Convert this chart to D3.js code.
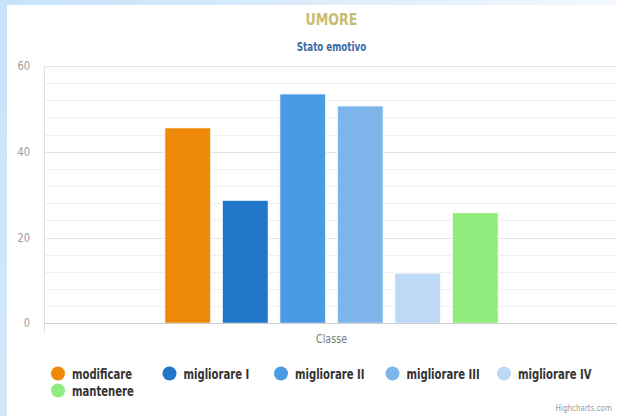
<!DOCTYPE html>
<html><head><meta charset="utf-8">
<script src="https://cdn.jsdelivr.net/npm/d3@7"></script>
<style>
html,body{margin:0;padding:0;background:#fff;overflow:hidden}
svg{display:block}
text{font-family:"DejaVu Sans",sans-serif}
</style></head><body>
<svg id="c" width="617" height="416"></svg>
<script>
const categories = ["Classe"];
const seriesNames = ["modificare","migliorare I","migliorare II","migliorare III","migliorare IV","mantenere"];
const seriesValues = [45.6, 28.7, 53.5, 50.7, 11.7, 25.8];
const seriesColors = ["#ef8908","#2077ca","#4b9be3","#7db4ea","#bdd9f5","#90ec7d"];
const yTicks = [0, 20, 40, 60];
const titleText = "UMORE";
const subtitleText = "Stato emotivo";
const creditText = "Highcharts.com";

const W = 617, H = 416;
const svg = d3.select("#c");
const defs = svg.append("defs");
const g = defs.append("linearGradient").attr("id","bg").attr("x1","0").attr("y1","0").attr("x2","1").attr("y2","0.3");
g.append("stop").attr("offset","0").attr("stop-color","#c6e2fa");
g.append("stop").attr("offset","0.6").attr("stop-color","#e2f0fc");
g.append("stop").attr("offset","1").attr("stop-color","#f7fbff");
svg.append("rect").attr("width",W).attr("height",H).attr("fill","url(#bg)");
svg.append("rect").attr("x",7).attr("y",5).attr("width",W-7).attr("height",H-5).attr("fill","#fff");

// condensed text helper
function ctext(parent, x, y, str, sx, opts) {
  const t = parent.append("text")
    .attr("transform", `translate(${x},${y}) scale(${sx},1)`)
    .attr("text-anchor", opts.anchor || "start")
    .attr("font-size", opts.size).attr("fill", opts.fill)
    .text(str);
  if (opts.bold) t.attr("font-weight", "bold");
  return t;
}

const plot = {left:44, right:619, top:66, bottom:323.3};
const x0 = d3.scaleBand().domain(categories).range([plot.left, plot.right]);
const groupPad = 0.2 * x0.bandwidth();
const x1 = d3.scaleBand().domain(seriesNames)
  .range([x0("Classe") + groupPad, x0("Classe") + x0.bandwidth() - groupPad])
  .paddingInner(0.2).paddingOuter(0.1);
const y = d3.scaleLinear().domain([0, 60]).range([plot.bottom, plot.top]);

// minor grid
const minor = d3.range(0, 61, 4);
svg.append("g").selectAll("line").data(minor).join("line")
  .attr("x1", plot.left).attr("x2", plot.right)
  .attr("y1", d => Math.round(y(d))+0.5).attr("y2", d => Math.round(y(d))+0.5)
  .attr("stroke", "#f0f0f0").attr("stroke-width", 1);
// major grid
svg.append("g").selectAll("line").data(yTicks).join("line")
  .attr("x1", plot.left).attr("x2", plot.right)
  .attr("y1", d => Math.round(y(d))+0.5).attr("y2", d => Math.round(y(d))+0.5)
  .attr("stroke", "#e4e4e4").attr("stroke-width", 1);

// y axis labels (positions from scale)
const yl = svg.append("g");
yTicks.forEach(t => ctext(yl, 30, y(t) + 4, String(t), 0.82, {anchor:"end", size:12, fill:"#9a9a9a"}));

// x grid line at category boundary + tick
svg.append("line").attr("x1", plot.left+0.5).attr("x2", plot.left+0.5)
  .attr("y1", plot.top).attr("y2", plot.bottom + 10).attr("stroke", "#e2e2e2");

// bars
svg.append("g").selectAll("rect").data(seriesNames).join("rect")
  .attr("x", d => x1(d))
  .attr("width", x1.bandwidth())
  .attr("y", (d,i) => y(seriesValues[i]))
  .attr("height", (d,i) => y(0) - y(seriesValues[i]))
  .attr("fill", (d,i) => seriesColors[i])
  .attr("stroke", "#fff").attr("stroke-width", 1);

// x axis line
svg.append("line").attr("x1", plot.left).attr("x2", plot.right)
  .attr("y1", Math.round(y(0))+0.5).attr("y2", Math.round(y(0))+0.5)
  .attr("stroke", "#cfcfcf");

// x axis category label
const cx = x0("Classe") + x0.bandwidth()/2;
categories.forEach(c => ctext(svg, x0(c) + x0.bandwidth()/2, y(0) + 20, c, 0.8, {anchor:"middle", size:12, fill:"#7a7a7a"}));

// titles
ctext(svg, cx, 25, titleText, 0.79, {anchor:"middle", size:16, bold:true, fill:"#c9bb6f"});
ctext(svg, cx, 51, subtitleText, 0.7, {anchor:"middle", size:12.5, bold:true, fill:"#3a6aa6"});

// legend
const legend = svg.append("g");
const colStep = 111.5, startX = 58, rowY = [373.5, 390.5];
seriesNames.forEach((n,i) => {
  const col = i % 5, row = Math.floor(i / 5);
  const gx = startX + col*colStep, gy = rowY[row];
  legend.append("circle").attr("cx", gx).attr("cy", gy).attr("r", 7).attr("fill", seriesColors[i]);
  ctext(legend, gx + 14, gy + 5, n, 0.72, {size:14, bold:true, fill:"#333"});
});

// credits
ctext(svg, 612, 411, creditText, 0.8, {anchor:"end", size:9, fill:"#9a9a9a"});
</script>
</body></html>
